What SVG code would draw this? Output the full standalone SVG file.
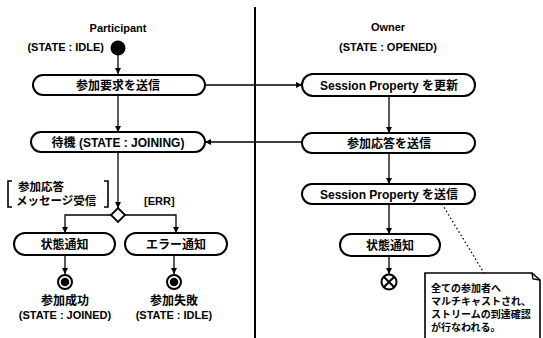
<svg xmlns="http://www.w3.org/2000/svg" width="543" height="338" viewBox="0 0 543 338">
  <style>
    text { font-family: "Liberation Sans", "Noto Sans CJK JP", sans-serif; font-weight: bold; fill: #000; }
    .lbl { font-size: 11px; text-anchor: middle; }
    .act { font-size: 12px; text-anchor: middle; dominant-baseline: central; }
    .note { font-size: 10px; }
    .box { fill: #fff; stroke: #000; stroke-width: 2; }
    .flow { fill: none; stroke: #000; stroke-width: 1.3; }
    .dot { fill: none; stroke: #000; stroke-width: 1.3; stroke-dasharray: 1.5 2.5; }
  </style>
  <defs>
    <marker id="arrow" viewBox="0 0 6 6" refX="6" refY="3" markerWidth="6" markerHeight="6" markerUnits="userSpaceOnUse" orient="auto">
      <path d="M0,0 L6,3 L0,6 Z" fill="#000"/>
    </marker>
  </defs>
  <rect width="543" height="338" fill="#fff"/>

  <!-- swimlane divider -->
  <line x1="255" y1="7" x2="255" y2="338" stroke="#000" stroke-width="2"/>

  <!-- lane titles -->
  <text class="lbl" x="118" y="32">Participant</text>
  <text class="lbl" x="388" y="31">Owner</text>
  <text class="lbl" x="388" y="51">(STATE : OPENED)</text>

  <!-- connectors -->
  <g id="connectors">
    <line class="flow" x1="118" y1="55" x2="118" y2="74" marker-end="url(#arrow)"/>
    <line class="flow" x1="205" y1="85" x2="302" y2="85" marker-end="url(#arrow)"/>
    <line class="flow" x1="118" y1="95" x2="118" y2="132" marker-end="url(#arrow)"/>
    <line class="flow" x1="389" y1="96" x2="389" y2="133" marker-end="url(#arrow)"/>
    <line class="flow" x1="302" y1="142" x2="205" y2="142" marker-end="url(#arrow)"/>
    <line class="flow" x1="389" y1="153" x2="389" y2="184" marker-end="url(#arrow)"/>
    <line class="flow" x1="389" y1="204" x2="389" y2="234" marker-end="url(#arrow)"/>
    <line class="flow" x1="389" y1="256" x2="389" y2="274" marker-end="url(#arrow)"/>
    <line class="flow" x1="118" y1="152" x2="118" y2="208" marker-end="url(#arrow)"/>
    <polyline class="flow" points="111,215 65,215 65,233" marker-end="url(#arrow)"/>
    <polyline class="flow" points="125,215 176,215 176,233" marker-end="url(#arrow)"/>
    <line class="flow" x1="65" y1="255" x2="65" y2="274" marker-end="url(#arrow)"/>
    <line class="flow" x1="174" y1="255" x2="174" y2="274" marker-end="url(#arrow)"/>
    <line class="dot" x1="442" y1="204" x2="484" y2="273"/>
  </g>

  <!-- participant lane -->
  <g id="p-start">
    <circle cx="118" cy="48" r="7.5" fill="#000"/>
    <text class="lbl" x="104" y="51" style="text-anchor:end">(STATE : IDLE)</text>
  </g>
  <g id="p-send-request">
    <rect class="box" x="33" y="75" width="172" height="20" rx="10"/>
    <text class="act" x="118" y="85.5">参加要求を送信</text>
  </g>
  <g id="p-waiting">
    <rect class="box" x="31" y="132" width="174" height="20" rx="10"/>
    <text class="act" x="118" y="142.5">待機 (STATE : JOINING)</text>
  </g>
  <g id="p-decision">
    <path d="M118,208 L125,215 L118,222 L111,215 Z" fill="#fff" stroke="#000" stroke-width="1.8"/>
    <path d="M12,181 L8,181 L8,207 L12,207" fill="none" stroke="#000" stroke-width="1.6"/>
    <path d="M104,181 L108,181 L108,207 L104,207" fill="none" stroke="#000" stroke-width="1.6"/>
    <text x="18" y="191" style="font-size:11.5px">参加応答</text>
    <text x="16" y="205" style="font-size:11.5px">メッセージ受信</text>
    <text x="144" y="205" style="font-size:11px">[ERR]</text>
  </g>
  <g id="p-notify-state">
    <rect class="box" x="14" y="233" width="101" height="22" rx="11"/>
    <text class="act" x="64.5" y="244.5">状態通知</text>
  </g>
  <g id="p-notify-error">
    <rect class="box" x="125" y="233" width="102" height="22" rx="11"/>
    <text class="act" x="176" y="244.5">エラー通知</text>
  </g>
  <g id="p-end-joined">
    <circle cx="65" cy="282" r="7" fill="#fff" stroke="#000" stroke-width="2"/>
    <circle cx="65" cy="282" r="4.3" fill="#000"/>
    <text class="lbl" x="65" y="305" style="font-size:12px">参加成功</text>
    <text class="lbl" x="65" y="319">(STATE : JOINED)</text>
  </g>
  <g id="p-end-failed">
    <circle cx="174" cy="282" r="7" fill="#fff" stroke="#000" stroke-width="2"/>
    <circle cx="174" cy="282" r="4.3" fill="#000"/>
    <text class="lbl" x="174" y="305" style="font-size:12px">参加失敗</text>
    <text class="lbl" x="174" y="319">(STATE : IDLE)</text>
  </g>

  <!-- owner lane -->
  <g id="o-update-property">
    <rect class="box" x="302" y="74" width="173" height="22" rx="11"/>
    <text class="act" x="389" y="85.5">Session Property を更新</text>
  </g>
  <g id="o-send-response">
    <rect class="box" x="302" y="133" width="173" height="20" rx="10"/>
    <text class="act" x="389" y="143.5">参加応答を送信</text>
  </g>
  <g id="o-send-property">
    <rect class="box" x="302" y="184" width="173" height="20" rx="10"/>
    <text class="act" x="389" y="194.5">Session Property を送信</text>
  </g>
  <g id="o-notify-state">
    <rect class="box" x="340" y="234" width="100" height="22" rx="11"/>
    <text class="act" x="390" y="245.5">状態通知</text>
  </g>
  <g id="o-flow-final">
    <circle cx="389" cy="282" r="7.5" fill="#fff" stroke="#000" stroke-width="2"/>
    <path d="M383.7,276.7 L394.3,287.3 M394.3,276.7 L383.7,287.3" stroke="#000" stroke-width="2"/>
  </g>
  <g id="o-note">
    <path d="M425,342 L425,273 L532,273 L540,280 L540,342" fill="#fff" stroke="#000" stroke-width="1.6"/>
    <path d="M532,273 L533,279 L540,280" fill="none" stroke="#000" stroke-width="1.4"/>
    <text class="note" x="431" y="292">全ての参加者へ</text>
    <text class="note" x="431" y="305">マルチキャストされ、</text>
    <text class="note" x="431" y="318">ストリームの到達確認</text>
    <text class="note" x="431" y="331">が行なわれる。</text>
  </g>
</svg>
